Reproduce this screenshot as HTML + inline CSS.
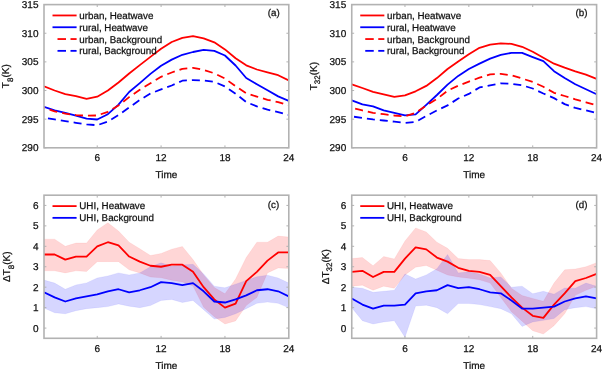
<!DOCTYPE html><html><head><meta charset="utf-8"><style>html,body{margin:0;padding:0;background:#fff;width:602px;height:369px;overflow:hidden}svg{display:block;will-change:transform;text-rendering:geometricPrecision}</style></head><body><svg width="602" height="369" viewBox="0 0 602 369">
<style>.t{font-family:"Liberation Sans",sans-serif;font-size:10px;fill:#111;stroke:#111;stroke-width:0.25px}.l{font-family:"Liberation Sans",sans-serif;font-size:9.8px;fill:#111;stroke:#111;stroke-width:0.25px}</style>
<rect width="602" height="369" fill="#fff"/>
<defs>
<clipPath id="clipa"><rect x="44.0" y="4.6" width="244.80" height="143.20"/></clipPath>
<clipPath id="clipb"><rect x="351.75" y="4.6" width="244.85" height="143.20"/></clipPath>
<clipPath id="clipc"><rect x="44.0" y="195.2" width="244.80" height="143.10"/></clipPath>
<clipPath id="clipd"><rect x="351.75" y="195.2" width="244.85" height="143.10"/></clipPath>
</defs>
<g clip-path="url(#clipa)" fill="none" stroke-width="1.8" stroke-linejoin="round">
<polyline points="44.00,86.30 54.64,90.50 65.29,94.10 75.93,96.20 86.57,98.90 97.22,96.70 107.86,90.50 118.50,82.50 129.15,73.50 139.79,65.10 150.43,56.90 161.08,48.80 171.72,42.00 182.37,37.90 193.01,36.10 203.65,38.40 214.30,42.30 224.94,49.40 235.58,58.30 246.23,65.30 256.87,69.50 267.51,72.30 278.16,75.20 288.80,80.50" stroke="#ff0000"/>
<polyline points="44.00,106.90 54.64,110.30 65.29,112.90 75.93,115.70 86.57,118.70 97.22,119.50 107.86,114.20 118.50,104.70 129.15,92.00 139.79,83.10 150.43,73.90 161.08,65.70 171.72,59.60 182.37,54.80 193.01,52.00 203.65,49.80 214.30,50.90 224.94,55.50 235.58,65.50 246.23,78.00 256.87,84.30 267.51,90.30 278.16,96.40 288.80,100.80" stroke="#0000ff"/>
<polyline points="44.00,107.50 54.64,111.40 65.29,113.60 75.93,115.10 86.57,115.70 97.22,115.50 107.86,111.80 118.50,105.40 129.15,97.10 139.79,89.80 150.43,83.30 161.08,76.80 171.72,72.50 182.37,68.80 193.01,67.80 203.65,69.90 214.30,73.30 224.94,78.50 235.58,86.30 246.23,93.20 256.87,96.60 267.51,99.80 278.16,102.10 288.80,105.50" stroke="#ff0000" stroke-dasharray="8,5" stroke-dashoffset="7"/>
<polyline points="44.00,117.70 54.64,119.40 65.29,121.10 75.93,122.80 86.57,124.40 97.22,125.20 107.86,121.60 118.50,115.10 129.15,107.50 139.79,100.00 150.43,93.50 161.08,89.40 171.72,85.50 182.37,80.70 193.01,80.10 203.65,80.50 214.30,81.80 224.94,86.50 235.58,93.70 246.23,102.10 256.87,106.40 267.51,109.70 278.16,112.10 288.80,115.00" stroke="#0000ff" stroke-dasharray="8,5" stroke-dashoffset="9"/>
</g>
<g clip-path="url(#clipb)" fill="none" stroke-width="1.8" stroke-linejoin="round">
<polyline points="351.75,84.30 362.40,88.00 373.04,91.80 383.69,94.30 394.33,96.80 404.98,95.30 415.62,91.30 426.27,85.90 436.92,78.10 447.56,69.00 458.21,61.40 468.85,54.30 479.50,47.80 490.14,44.60 500.79,43.30 511.43,43.90 522.08,46.80 532.73,51.70 543.37,57.70 554.02,63.70 564.66,67.70 575.31,71.40 585.95,74.70 596.60,78.80" stroke="#ff0000"/>
<polyline points="351.75,100.40 362.40,104.40 373.04,106.40 383.69,110.40 394.33,112.90 404.98,115.40 415.62,114.40 426.27,104.80 436.92,95.00 447.56,84.60 458.21,75.90 468.85,69.00 479.50,63.60 490.14,58.60 500.79,54.90 511.43,52.80 522.08,52.80 532.73,57.10 543.37,61.20 554.02,71.20 564.66,78.00 575.31,84.30 585.95,89.30 596.60,94.30" stroke="#0000ff"/>
<polyline points="351.75,107.90 362.40,110.40 373.04,112.90 383.69,114.20 394.33,115.50 404.98,116.40 415.62,112.90 426.27,105.40 436.92,99.00 447.56,90.70 458.21,85.70 468.85,81.60 479.50,77.70 490.14,74.30 500.79,73.80 511.43,75.30 522.08,78.50 532.73,82.00 543.37,86.80 554.02,92.80 564.66,96.00 575.31,99.30 585.95,102.30 596.60,105.40" stroke="#ff0000" stroke-dasharray="8,5" stroke-dashoffset="9.5"/>
<polyline points="351.75,116.40 362.40,118.00 373.04,119.40 383.69,120.50 394.33,121.70 404.98,122.90 415.62,121.90 426.27,116.00 436.92,110.40 447.56,105.40 458.21,98.50 468.85,93.90 479.50,87.40 490.14,85.30 500.79,83.30 511.43,83.80 522.08,85.30 532.73,88.50 543.37,93.50 554.02,98.10 564.66,104.10 575.31,107.90 585.95,110.40 596.60,112.90" stroke="#0000ff" stroke-dasharray="8,5" stroke-dashoffset="10.7"/>
</g>
<g clip-path="url(#clipc)">
<polygon points="44.00,239.15 54.64,239.15 65.29,246.31 75.93,243.04 86.57,243.04 97.22,229.95 107.86,222.80 118.50,230.97 129.15,242.22 139.79,248.76 150.43,255.51 161.08,253.46 171.72,249.17 182.37,246.51 193.01,259.60 203.65,274.93 214.30,287.60 224.94,293.73 235.58,279.02 246.23,257.55 256.87,242.22 267.51,242.22 278.16,236.09 288.80,237.11 288.80,268.39 278.16,267.98 267.51,272.88 256.87,297.41 246.23,305.59 235.58,320.92 224.94,323.99 214.30,316.63 203.65,307.23 193.01,285.97 182.37,281.88 171.72,280.24 161.08,277.79 150.43,276.97 139.79,272.88 129.15,269.82 118.50,261.64 107.86,261.64 97.22,261.64 86.57,271.45 75.93,270.84 65.29,272.88 54.64,270.84 44.00,270.84" fill="#ff0000" fill-opacity="0.16" stroke="#ff0000" stroke-opacity="0.06" stroke-width="1"/>
<polygon points="44.00,280.04 54.64,283.10 65.29,289.24 75.93,284.94 86.57,282.90 97.22,277.99 107.86,275.95 118.50,272.88 129.15,274.93 139.79,272.88 150.43,266.75 161.08,262.87 171.72,266.34 182.37,264.91 193.01,264.30 203.65,273.90 214.30,286.17 224.94,287.81 235.58,284.13 246.23,280.45 256.87,276.77 267.51,275.13 278.16,277.99 288.80,283.10 288.80,307.84 278.16,303.34 267.51,302.12 256.87,303.34 246.23,308.66 235.58,313.77 224.94,317.45 214.30,319.08 203.65,309.68 193.01,300.48 182.37,302.52 171.72,299.46 161.08,300.48 150.43,305.59 139.79,307.64 129.15,306.20 118.50,303.96 107.86,306.61 97.22,307.64 86.57,308.66 75.93,310.70 65.29,313.77 54.64,312.75 44.00,308.04" fill="#0000ff" fill-opacity="0.16" stroke="#0000ff" stroke-opacity="0.06" stroke-width="1"/>
<polyline points="44.00,254.48 54.64,254.48 65.29,259.60 75.93,256.53 86.57,256.53 97.22,246.31 107.86,242.22 118.50,245.28 129.15,256.53 139.79,261.64 150.43,265.73 161.08,266.75 171.72,264.71 182.37,264.71 193.01,271.86 203.65,287.19 214.30,299.46 224.94,307.64 235.58,303.55 246.23,281.06 256.87,271.86 267.51,260.62 278.16,252.44 288.80,252.44" fill="none" stroke="#ff0000" stroke-width="1.8" stroke-linejoin="round"/>
<polyline points="44.00,292.30 54.64,297.41 65.29,301.50 75.93,298.44 86.57,296.39 97.22,294.35 107.86,291.28 118.50,289.24 129.15,292.30 139.79,290.26 150.43,287.19 161.08,282.08 171.72,283.10 182.37,285.15 193.01,283.10 203.65,291.28 214.30,301.50 224.94,302.52 235.58,299.46 246.23,295.37 256.87,290.26 267.51,289.24 278.16,291.28 288.80,296.39" fill="none" stroke="#0000ff" stroke-width="1.8" stroke-linejoin="round"/>
</g>
<g clip-path="url(#clipd)">
<polygon points="351.75,258.57 362.40,257.55 373.04,265.73 383.69,256.53 394.33,258.98 404.98,240.99 415.62,227.91 426.27,232.00 436.92,242.22 447.56,248.35 458.21,258.57 468.85,259.60 479.50,259.60 490.14,260.62 500.79,272.88 511.43,288.22 522.08,295.57 532.73,298.44 543.37,301.30 554.02,283.10 564.66,269.82 575.31,269.00 585.95,266.75 596.60,262.66 596.60,286.17 585.95,290.26 575.31,295.37 564.66,313.77 554.02,325.63 543.37,334.01 532.73,330.74 522.08,321.13 511.43,311.72 500.79,297.41 490.14,283.10 479.50,279.83 468.85,278.20 458.21,276.97 447.56,274.93 436.92,270.23 426.27,265.52 415.62,267.16 404.98,274.93 394.33,288.22 383.69,286.17 373.04,290.26 362.40,285.15 351.75,286.17" fill="#ff0000" fill-opacity="0.16" stroke="#ff0000" stroke-opacity="0.06" stroke-width="1"/>
<polygon points="351.75,287.19 362.40,288.22 373.04,292.30 383.69,291.28 394.33,290.26 404.98,273.90 415.62,279.02 426.27,274.93 436.92,268.79 447.56,254.48 458.21,272.88 468.85,271.86 479.50,273.90 490.14,277.99 500.79,276.97 511.43,287.19 522.08,286.17 532.73,293.73 543.37,291.28 554.02,294.14 564.66,288.01 575.31,288.22 585.95,283.10 596.60,286.17 596.60,308.66 585.95,306.61 575.31,307.64 564.66,309.68 554.02,318.47 543.37,320.31 532.73,321.95 522.08,326.44 511.43,313.77 500.79,308.66 490.14,306.61 479.50,304.57 468.85,303.55 458.21,303.55 447.56,313.77 436.92,307.64 426.27,305.18 415.62,306.00 404.98,337.28 394.33,320.72 383.69,321.95 373.04,323.99 362.40,320.72 351.75,307.64" fill="#0000ff" fill-opacity="0.16" stroke="#0000ff" stroke-opacity="0.06" stroke-width="1"/>
<polyline points="351.75,271.86 362.40,270.84 373.04,276.97 383.69,271.86 394.33,271.86 404.98,258.57 415.62,247.33 426.27,249.37 436.92,257.55 447.56,261.64 458.21,267.77 468.85,270.84 479.50,271.86 490.14,274.93 500.79,286.17 511.43,297.41 522.08,307.64 532.73,315.81 543.37,317.86 554.02,304.57 564.66,293.33 575.31,281.06 585.95,277.99 596.60,273.90" fill="none" stroke="#ff0000" stroke-width="1.8" stroke-linejoin="round"/>
<polyline points="351.75,298.44 362.40,304.57 373.04,308.66 383.69,305.59 394.33,305.59 404.98,304.57 415.62,293.33 426.27,291.28 436.92,290.26 447.56,285.15 458.21,288.22 468.85,287.19 479.50,289.24 490.14,292.30 500.79,293.33 511.43,300.48 522.08,308.66 532.73,308.66 543.37,307.64 554.02,306.61 564.66,301.50 575.31,298.44 585.95,296.39 596.60,298.44" fill="none" stroke="#0000ff" stroke-width="1.8" stroke-linejoin="round"/>
</g>
<rect x="44.0" y="4.6" width="244.80" height="143.20" fill="none" stroke="#b2b2b2" stroke-width="1.6"/>
<line x1="97.22" y1="147.8" x2="97.22" y2="145.4" stroke="#b2b2b2" stroke-width="1"/>
<line x1="97.22" y1="4.6" x2="97.22" y2="7.0" stroke="#b2b2b2" stroke-width="1"/>
<line x1="161.08" y1="147.8" x2="161.08" y2="145.4" stroke="#b2b2b2" stroke-width="1"/>
<line x1="161.08" y1="4.6" x2="161.08" y2="7.0" stroke="#b2b2b2" stroke-width="1"/>
<line x1="224.94" y1="147.8" x2="224.94" y2="145.4" stroke="#b2b2b2" stroke-width="1"/>
<line x1="224.94" y1="4.6" x2="224.94" y2="7.0" stroke="#b2b2b2" stroke-width="1"/>
<line x1="44.0" y1="147.80" x2="46.4" y2="147.80" stroke="#b2b2b2" stroke-width="1"/>
<line x1="288.8" y1="147.80" x2="286.40000000000003" y2="147.80" stroke="#b2b2b2" stroke-width="1"/>
<line x1="44.0" y1="119.16" x2="46.4" y2="119.16" stroke="#b2b2b2" stroke-width="1"/>
<line x1="288.8" y1="119.16" x2="286.40000000000003" y2="119.16" stroke="#b2b2b2" stroke-width="1"/>
<line x1="44.0" y1="90.52" x2="46.4" y2="90.52" stroke="#b2b2b2" stroke-width="1"/>
<line x1="288.8" y1="90.52" x2="286.40000000000003" y2="90.52" stroke="#b2b2b2" stroke-width="1"/>
<line x1="44.0" y1="61.88" x2="46.4" y2="61.88" stroke="#b2b2b2" stroke-width="1"/>
<line x1="288.8" y1="61.88" x2="286.40000000000003" y2="61.88" stroke="#b2b2b2" stroke-width="1"/>
<line x1="44.0" y1="33.24" x2="46.4" y2="33.24" stroke="#b2b2b2" stroke-width="1"/>
<line x1="288.8" y1="33.24" x2="286.40000000000003" y2="33.24" stroke="#b2b2b2" stroke-width="1"/>
<line x1="44.0" y1="4.60" x2="46.4" y2="4.60" stroke="#b2b2b2" stroke-width="1"/>
<line x1="288.8" y1="4.60" x2="286.40000000000003" y2="4.60" stroke="#b2b2b2" stroke-width="1"/>
<text x="97.22" y="161.10" text-anchor="middle" class="t">6</text>
<text x="161.08" y="161.10" text-anchor="middle" class="t">12</text>
<text x="224.94" y="161.10" text-anchor="middle" class="t">18</text>
<text x="288.80" y="161.10" text-anchor="middle" class="t">24</text>
<text x="38.50" y="151.40" text-anchor="end" class="t">290</text>
<text x="38.50" y="122.76" text-anchor="end" class="t">295</text>
<text x="38.50" y="94.12" text-anchor="end" class="t">300</text>
<text x="38.50" y="65.48" text-anchor="end" class="t">305</text>
<text x="38.50" y="36.84" text-anchor="end" class="t">310</text>
<text x="38.50" y="8.20" text-anchor="end" class="t">315</text>
<text x="166.40" y="178.10" text-anchor="middle" class="t">Time</text>
<rect x="351.75" y="4.6" width="244.85" height="143.20" fill="none" stroke="#b2b2b2" stroke-width="1.6"/>
<line x1="404.98" y1="147.8" x2="404.98" y2="145.4" stroke="#b2b2b2" stroke-width="1"/>
<line x1="404.98" y1="4.6" x2="404.98" y2="7.0" stroke="#b2b2b2" stroke-width="1"/>
<line x1="468.85" y1="147.8" x2="468.85" y2="145.4" stroke="#b2b2b2" stroke-width="1"/>
<line x1="468.85" y1="4.6" x2="468.85" y2="7.0" stroke="#b2b2b2" stroke-width="1"/>
<line x1="532.73" y1="147.8" x2="532.73" y2="145.4" stroke="#b2b2b2" stroke-width="1"/>
<line x1="532.73" y1="4.6" x2="532.73" y2="7.0" stroke="#b2b2b2" stroke-width="1"/>
<line x1="351.75" y1="147.80" x2="354.15" y2="147.80" stroke="#b2b2b2" stroke-width="1"/>
<line x1="596.6" y1="147.80" x2="594.2" y2="147.80" stroke="#b2b2b2" stroke-width="1"/>
<line x1="351.75" y1="119.16" x2="354.15" y2="119.16" stroke="#b2b2b2" stroke-width="1"/>
<line x1="596.6" y1="119.16" x2="594.2" y2="119.16" stroke="#b2b2b2" stroke-width="1"/>
<line x1="351.75" y1="90.52" x2="354.15" y2="90.52" stroke="#b2b2b2" stroke-width="1"/>
<line x1="596.6" y1="90.52" x2="594.2" y2="90.52" stroke="#b2b2b2" stroke-width="1"/>
<line x1="351.75" y1="61.88" x2="354.15" y2="61.88" stroke="#b2b2b2" stroke-width="1"/>
<line x1="596.6" y1="61.88" x2="594.2" y2="61.88" stroke="#b2b2b2" stroke-width="1"/>
<line x1="351.75" y1="33.24" x2="354.15" y2="33.24" stroke="#b2b2b2" stroke-width="1"/>
<line x1="596.6" y1="33.24" x2="594.2" y2="33.24" stroke="#b2b2b2" stroke-width="1"/>
<line x1="351.75" y1="4.60" x2="354.15" y2="4.60" stroke="#b2b2b2" stroke-width="1"/>
<line x1="596.6" y1="4.60" x2="594.2" y2="4.60" stroke="#b2b2b2" stroke-width="1"/>
<text x="404.98" y="161.10" text-anchor="middle" class="t">6</text>
<text x="468.85" y="161.10" text-anchor="middle" class="t">12</text>
<text x="532.73" y="161.10" text-anchor="middle" class="t">18</text>
<text x="596.60" y="161.10" text-anchor="middle" class="t">24</text>
<text x="346.25" y="151.40" text-anchor="end" class="t">290</text>
<text x="346.25" y="122.76" text-anchor="end" class="t">295</text>
<text x="346.25" y="94.12" text-anchor="end" class="t">300</text>
<text x="346.25" y="65.48" text-anchor="end" class="t">305</text>
<text x="346.25" y="36.84" text-anchor="end" class="t">310</text>
<text x="346.25" y="8.20" text-anchor="end" class="t">315</text>
<text x="474.18" y="178.10" text-anchor="middle" class="t">Time</text>
<rect x="44.0" y="195.2" width="244.80" height="143.10" fill="none" stroke="#b2b2b2" stroke-width="1.6"/>
<line x1="97.22" y1="338.3" x2="97.22" y2="335.90000000000003" stroke="#b2b2b2" stroke-width="1"/>
<line x1="97.22" y1="195.2" x2="97.22" y2="197.6" stroke="#b2b2b2" stroke-width="1"/>
<line x1="161.08" y1="338.3" x2="161.08" y2="335.90000000000003" stroke="#b2b2b2" stroke-width="1"/>
<line x1="161.08" y1="195.2" x2="161.08" y2="197.6" stroke="#b2b2b2" stroke-width="1"/>
<line x1="224.94" y1="338.3" x2="224.94" y2="335.90000000000003" stroke="#b2b2b2" stroke-width="1"/>
<line x1="224.94" y1="195.2" x2="224.94" y2="197.6" stroke="#b2b2b2" stroke-width="1"/>
<line x1="44.0" y1="328.08" x2="46.4" y2="328.08" stroke="#b2b2b2" stroke-width="1"/>
<line x1="288.8" y1="328.08" x2="286.40000000000003" y2="328.08" stroke="#b2b2b2" stroke-width="1"/>
<line x1="44.0" y1="307.64" x2="46.4" y2="307.64" stroke="#b2b2b2" stroke-width="1"/>
<line x1="288.8" y1="307.64" x2="286.40000000000003" y2="307.64" stroke="#b2b2b2" stroke-width="1"/>
<line x1="44.0" y1="287.19" x2="46.4" y2="287.19" stroke="#b2b2b2" stroke-width="1"/>
<line x1="288.8" y1="287.19" x2="286.40000000000003" y2="287.19" stroke="#b2b2b2" stroke-width="1"/>
<line x1="44.0" y1="266.75" x2="46.4" y2="266.75" stroke="#b2b2b2" stroke-width="1"/>
<line x1="288.8" y1="266.75" x2="286.40000000000003" y2="266.75" stroke="#b2b2b2" stroke-width="1"/>
<line x1="44.0" y1="246.31" x2="46.4" y2="246.31" stroke="#b2b2b2" stroke-width="1"/>
<line x1="288.8" y1="246.31" x2="286.40000000000003" y2="246.31" stroke="#b2b2b2" stroke-width="1"/>
<line x1="44.0" y1="225.86" x2="46.4" y2="225.86" stroke="#b2b2b2" stroke-width="1"/>
<line x1="288.8" y1="225.86" x2="286.40000000000003" y2="225.86" stroke="#b2b2b2" stroke-width="1"/>
<line x1="44.0" y1="205.42" x2="46.4" y2="205.42" stroke="#b2b2b2" stroke-width="1"/>
<line x1="288.8" y1="205.42" x2="286.40000000000003" y2="205.42" stroke="#b2b2b2" stroke-width="1"/>
<text x="97.22" y="351.60" text-anchor="middle" class="t">6</text>
<text x="161.08" y="351.60" text-anchor="middle" class="t">12</text>
<text x="224.94" y="351.60" text-anchor="middle" class="t">18</text>
<text x="288.80" y="351.60" text-anchor="middle" class="t">24</text>
<text x="38.50" y="331.68" text-anchor="end" class="t">0</text>
<text x="38.50" y="311.24" text-anchor="end" class="t">1</text>
<text x="38.50" y="290.79" text-anchor="end" class="t">2</text>
<text x="38.50" y="270.35" text-anchor="end" class="t">3</text>
<text x="38.50" y="249.91" text-anchor="end" class="t">4</text>
<text x="38.50" y="229.46" text-anchor="end" class="t">5</text>
<text x="38.50" y="209.02" text-anchor="end" class="t">6</text>
<text x="166.40" y="368.60" text-anchor="middle" class="t">Time</text>
<rect x="351.75" y="195.2" width="244.85" height="143.10" fill="none" stroke="#b2b2b2" stroke-width="1.6"/>
<line x1="404.98" y1="338.3" x2="404.98" y2="335.90000000000003" stroke="#b2b2b2" stroke-width="1"/>
<line x1="404.98" y1="195.2" x2="404.98" y2="197.6" stroke="#b2b2b2" stroke-width="1"/>
<line x1="468.85" y1="338.3" x2="468.85" y2="335.90000000000003" stroke="#b2b2b2" stroke-width="1"/>
<line x1="468.85" y1="195.2" x2="468.85" y2="197.6" stroke="#b2b2b2" stroke-width="1"/>
<line x1="532.73" y1="338.3" x2="532.73" y2="335.90000000000003" stroke="#b2b2b2" stroke-width="1"/>
<line x1="532.73" y1="195.2" x2="532.73" y2="197.6" stroke="#b2b2b2" stroke-width="1"/>
<line x1="351.75" y1="328.08" x2="354.15" y2="328.08" stroke="#b2b2b2" stroke-width="1"/>
<line x1="596.6" y1="328.08" x2="594.2" y2="328.08" stroke="#b2b2b2" stroke-width="1"/>
<line x1="351.75" y1="307.64" x2="354.15" y2="307.64" stroke="#b2b2b2" stroke-width="1"/>
<line x1="596.6" y1="307.64" x2="594.2" y2="307.64" stroke="#b2b2b2" stroke-width="1"/>
<line x1="351.75" y1="287.19" x2="354.15" y2="287.19" stroke="#b2b2b2" stroke-width="1"/>
<line x1="596.6" y1="287.19" x2="594.2" y2="287.19" stroke="#b2b2b2" stroke-width="1"/>
<line x1="351.75" y1="266.75" x2="354.15" y2="266.75" stroke="#b2b2b2" stroke-width="1"/>
<line x1="596.6" y1="266.75" x2="594.2" y2="266.75" stroke="#b2b2b2" stroke-width="1"/>
<line x1="351.75" y1="246.31" x2="354.15" y2="246.31" stroke="#b2b2b2" stroke-width="1"/>
<line x1="596.6" y1="246.31" x2="594.2" y2="246.31" stroke="#b2b2b2" stroke-width="1"/>
<line x1="351.75" y1="225.86" x2="354.15" y2="225.86" stroke="#b2b2b2" stroke-width="1"/>
<line x1="596.6" y1="225.86" x2="594.2" y2="225.86" stroke="#b2b2b2" stroke-width="1"/>
<line x1="351.75" y1="205.42" x2="354.15" y2="205.42" stroke="#b2b2b2" stroke-width="1"/>
<line x1="596.6" y1="205.42" x2="594.2" y2="205.42" stroke="#b2b2b2" stroke-width="1"/>
<text x="404.98" y="351.60" text-anchor="middle" class="t">6</text>
<text x="468.85" y="351.60" text-anchor="middle" class="t">12</text>
<text x="532.73" y="351.60" text-anchor="middle" class="t">18</text>
<text x="596.60" y="351.60" text-anchor="middle" class="t">24</text>
<text x="346.25" y="331.68" text-anchor="end" class="t">0</text>
<text x="346.25" y="311.24" text-anchor="end" class="t">1</text>
<text x="346.25" y="290.79" text-anchor="end" class="t">2</text>
<text x="346.25" y="270.35" text-anchor="end" class="t">3</text>
<text x="346.25" y="249.91" text-anchor="end" class="t">4</text>
<text x="346.25" y="229.46" text-anchor="end" class="t">5</text>
<text x="346.25" y="209.02" text-anchor="end" class="t">6</text>
<text x="474.18" y="368.60" text-anchor="middle" class="t">Time</text>
<line x1="52.50" y1="15.45" x2="76.60" y2="15.45" stroke="#ff0000" stroke-width="1.8"/>
<text x="79.30" y="19.05" class="l">urban, Heatwave</text>
<line x1="52.50" y1="27.25" x2="76.60" y2="27.25" stroke="#0000ff" stroke-width="1.8"/>
<text x="79.30" y="30.85" class="l">rural, Heatwave</text>
<line x1="57.50" y1="39.05" x2="66.00" y2="39.05" stroke="#ff0000" stroke-width="1.8"/>
<line x1="70.50" y1="39.05" x2="76.60" y2="39.05" stroke="#ff0000" stroke-width="1.8"/>
<text x="79.30" y="42.65" class="l">urban, Background</text>
<line x1="57.50" y1="50.85" x2="66.00" y2="50.85" stroke="#0000ff" stroke-width="1.8"/>
<line x1="70.50" y1="50.85" x2="76.60" y2="50.85" stroke="#0000ff" stroke-width="1.8"/>
<text x="79.30" y="54.45" class="l">rural, Background</text>
<line x1="360.25" y1="15.45" x2="384.35" y2="15.45" stroke="#ff0000" stroke-width="1.8"/>
<text x="387.05" y="19.05" class="l">urban, Heatwave</text>
<line x1="360.25" y1="27.25" x2="384.35" y2="27.25" stroke="#0000ff" stroke-width="1.8"/>
<text x="387.05" y="30.85" class="l">rural, Heatwave</text>
<line x1="365.25" y1="39.05" x2="373.75" y2="39.05" stroke="#ff0000" stroke-width="1.8"/>
<line x1="378.25" y1="39.05" x2="384.35" y2="39.05" stroke="#ff0000" stroke-width="1.8"/>
<text x="387.05" y="42.65" class="l">urban, Background</text>
<line x1="365.25" y1="50.85" x2="373.75" y2="50.85" stroke="#0000ff" stroke-width="1.8"/>
<line x1="378.25" y1="50.85" x2="384.35" y2="50.85" stroke="#0000ff" stroke-width="1.8"/>
<text x="387.05" y="54.45" class="l">rural, Background</text>
<line x1="52.50" y1="206.10" x2="76.60" y2="206.10" stroke="#ff0000" stroke-width="1.8"/>
<text x="79.30" y="209.20" class="l">UHI, Heatwave</text>
<line x1="52.50" y1="217.85" x2="76.60" y2="217.85" stroke="#0000ff" stroke-width="1.8"/>
<text x="79.30" y="220.95" class="l">UHI, Background</text>
<line x1="360.25" y1="206.10" x2="384.35" y2="206.10" stroke="#ff0000" stroke-width="1.8"/>
<text x="387.05" y="209.20" class="l">UHI, Heatwave</text>
<line x1="360.25" y1="217.85" x2="384.35" y2="217.85" stroke="#0000ff" stroke-width="1.8"/>
<text x="387.05" y="220.95" class="l">UHI, Background</text>
<text x="267.80" y="16.00" class="l">(a)</text>
<text x="575.60" y="16.00" class="l">(b)</text>
<text x="267.80" y="208.30" class="l">(c)</text>
<text x="575.60" y="208.30" class="l">(d)</text>
<text transform="translate(9.40,76.20) rotate(-90)" text-anchor="middle" class="t">T<tspan font-size="8px" dy="3.3">8</tspan><tspan dy="-3.3">(K)</tspan></text>
<text transform="translate(317.15,76.20) rotate(-90)" text-anchor="middle" class="t">T<tspan font-size="8px" dy="3.3">32</tspan><tspan dy="-3.3">(K)</tspan></text>
<text transform="translate(10.40,266.75) rotate(-90)" text-anchor="middle" class="t">ΔT<tspan font-size="8px" dy="3.3">8</tspan><tspan dy="-3.3">(K)</tspan></text>
<text transform="translate(329.15,266.75) rotate(-90)" text-anchor="middle" class="t">ΔT<tspan font-size="8px" dy="3.3">32</tspan><tspan dy="-3.3">(K)</tspan></text>
</svg></body></html>
